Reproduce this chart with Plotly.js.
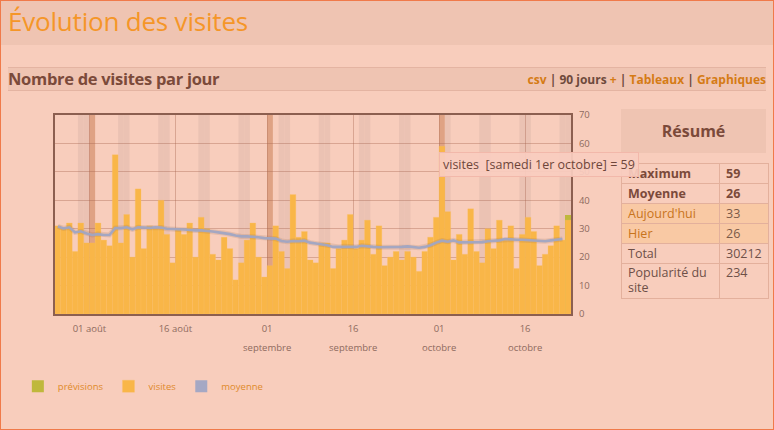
<!DOCTYPE html>
<html><head><meta charset="utf-8">
<script src="https://cdn.plot.ly/plotly-3.0.1.min.js"></script>
<style>
html,body{margin:0;padding:0;}
body{width:774px;height:430px;position:relative;overflow:hidden;background:#f8cdbc;font-family:"Open Sans",sans-serif;}
#frame{position:absolute;left:0;top:0;width:772px;height:428px;border:1px solid #f07a4a;}
#top{position:absolute;left:1px;top:1px;width:772px;height:44px;background:#efc4b2;}
#top h1{margin:0;position:absolute;left:7px;top:2px;font-weight:normal;font-size:26px;color:#f59628;letter-spacing:-0.2px;}
#band{position:absolute;left:8px;top:67px;width:758px;height:22px;background:#efc4b2;border-top:1px solid #e4b4a2;border-bottom:1px solid #e4b4a2;}
#band .t{position:absolute;left:0;top:-1px;font-weight:bold;font-size:16.5px;color:#7b4a3a;letter-spacing:-0.3px;}
#band .l{position:absolute;right:0;top:3px;font-weight:bold;font-size:12px;color:#6e4a3c;}
#band .l .o{color:#d57b15;}
#res{position:absolute;left:621px;top:109px;width:145px;height:44px;background:#efc4b2;text-align:center;line-height:44px;font-weight:bold;font-size:16px;color:#7b4a3a;}
#tab{position:absolute;left:621px;top:163px;border-collapse:collapse;font-size:12.5px;color:#6e5048;}
#tab td{border:1px solid #e3b09c;padding:0 6px;height:19px;vertical-align:middle;line-height:15px;}
#tab td.a{width:85px;}
#tab td.b{width:34px;}
#tab tr.bd td{font-weight:bold;color:#7b4a3a;}
#tab tr.hl td{background:#f9c9a4;color:#c8741c;}
#tab tr.hl td.b{color:#7b5a48;}
#tab tr.pop td{height:33px;vertical-align:top;padding-top:1px;}
#plot{position:absolute;left:0;top:0;width:774px;height:430px;z-index:5;pointer-events:none;}
</style></head>
<body>
<div id="frame"></div>
<div id="top"><h1>Évolution des visites</h1></div>
<div id="band"><span class="t">Nombre de visites par jour</span>
<span class="l"><span class="o">csv</span> | 90 jours <span class="o">+</span> | <span class="o">Tableaux</span> | <span class="o">Graphiques</span></span></div>
<div id="res">Résumé</div>
<table id="tab">
<tr class="bd"><td class="a">Maximum</td><td class="b">59</td></tr>
<tr class="bd"><td class="a">Moyenne</td><td class="b">26</td></tr>
<tr class="hl"><td class="a">Aujourd'hui</td><td class="b">33</td></tr>
<tr class="hl"><td class="a">Hier</td><td class="b">26</td></tr>
<tr><td class="a">Total</td><td class="b">30212</td></tr>
<tr class="pop"><td class="a">Popularité du site</td><td class="b">234</td></tr>
</table>
<div id="plot"></div>
<script>
// Data (90 days, 26 juillet -> 23 octobre 2011)
var startDate = "2011-07-26";
var visites = [31,30,32,22,32,25,25,32,26,24,
               56,25,35,20,44,23,31,30,40,28,
               18,30,28,32,20,34,30,21,19,27,
               23,12,18,26,32,20,13,17,31,22,
               16,42,27,29,19,18,25,25,16,23,
               26,35,23,26,33,21,31,17,20,22,
               19,22,20,15,22,27,34,59,36,19,
               28,21,37,22,18,30,23,33,26,31,
               16,28,34,29,17,21,24,31,26,33];
var moyenne = [30.8,30.1,30.5,28.7,29.1,28.3,27.8,28.1,27.8,27.8,
               30.2,30.2,30.5,29.8,30.5,30.3,30.3,30.5,30.4,30.0,
               29.8,29.8,29.7,29.5,29.4,29.4,29.3,29.0,28.7,28.5,
               28.1,27.6,27.3,27.3,27.2,27.0,26.7,26.5,26.5,25.7,
               25.4,25.7,25.6,25.8,25.1,24.8,24.6,24.2,23.6,23.6,
               23.8,23.7,23.6,24.0,23.7,23.6,23.5,23.5,23.5,23.5,
               23.6,23.8,23.5,23.3,23.6,24.2,25.1,25.8,25.4,25.9,
               25.2,25.2,25.3,25.3,25.3,25.6,25.8,25.9,26.4,26.2,
               26.1,26.1,26.0,25.9,25.7,25.6,25.9,26.1,26.4];
var prevision = 35;           // forecast for today (last day)
var tickDays = [6,21,37,52,67,82];
var tickTop = ["01 août","16 août","01","16","01","16"];
var tickBottom = ["","","septembre","septembre","octobre","octobre"];
var tooltipText = "visites&nbsp; [samedi 1er octobre] = 59";

var n = visites.length;
var idx = [], dates = [];
var d0 = new Date(startDate + "T00:00:00Z");
for (var i = 0; i < n; i++) {
  idx.push(i);
  dates.push(new Date(d0.getTime() + i * 86400000));
}
var shapes = [];
for (var i = 0; i < n; i++) {
  var dow = dates[i].getUTCDay();
  if (dates[i].getUTCDate() === 1) {
    shapes.push({type:"rect", xref:"x", yref:"paper", x0:i-0.5, x1:i+0.5, y0:0, y1:1,
      fillcolor:"#dfa284", line:{width:0}, layer:"below"});
  } else if (dow === 0 || dow === 6) {
    shapes.push({type:"rect", xref:"x", yref:"paper", x0:i-0.5, x1:i+0.5, y0:0, y1:1,
      fillcolor:"#ebc2b3", line:{width:0}, layer:"below"});
  }
}
var prevY = visites.map(function(v, i){ return i === n-1 ? prevision : null; });
var tickPos = tickDays.map(function(t){ return t - 0.5; });
var maxV = Math.max.apply(null, visites), maxI = visites.indexOf(maxV);

var traces = [
  {type:"bar", name:"prévisions", x:idx, y:prevY, marker:{color:"#bfb83c", line:{width:0}},
   width:1, hoverinfo:"skip"},
  {type:"bar", name:"visites", x:idx, y:visites, marker:{color:"#f9b648", line:{color:"#fabd60", width:0.3}},
   width:1, hoverinfo:"skip"},
  {type:"scatter", mode:"lines", name:"ombre", x:idx.slice(0, moyenne.length), y:moyenne, xaxis:"x2",
   line:{color:"rgba(150,110,90,0.18)", width:5}, showlegend:false, hoverinfo:"skip"},
  {type:"scatter", mode:"lines", name:"moyenne", x:idx.slice(0, moyenne.length), y:moyenne, xaxis:"x2",
   line:{color:"rgba(160,165,195,0.95)", width:2.6}, showlegend:false, hoverinfo:"skip"},
  {type:"bar", name:"moyenne", x:[null], y:[null], marker:{color:"#a5a8c4", line:{width:0}}}
];

var axFont = {family:"Open Sans, sans-serif", size:9.5, color:"#8e6a5e"};
var layout = {
  width:774, height:430,
  margin:{l:55, r:203, t:115, b:116, pad:0},
  paper_bgcolor:"rgba(0,0,0,0)", plot_bgcolor:"#f8cdbc",
  barmode:"overlay", bargap:0,
  showlegend:true,
  legend:{orientation:"h", x:-0.072, xanchor:"left", y:-0.29, yanchor:"top",
    font:{family:"Open Sans, sans-serif", size:9.5, color:"#e08a2a"}, bgcolor:"rgba(0,0,0,0)",
    traceorder:"normal"},
  xaxis:{range:[-0.5, n-0.5], tickmode:"array", tickvals:tickPos, ticktext:tickTop,
    showgrid:true, gridcolor:"rgba(165,100,80,0.38)", gridwidth:1,
    ticks:"outside", ticklen:5, tickcolor:"rgba(0,0,0,0)",
    showline:true, mirror:true, linecolor:"#8c5f50", linewidth:2,
    tickfont:axFont, zeroline:false, fixedrange:true},
  xaxis2:{overlaying:"x", anchor:"y", side:"bottom", range:[-0.5, n-0.5], tickmode:"array",
    tickvals:tickPos, ticktext:tickBottom, showgrid:false, showline:false, zeroline:false,
    ticks:"outside", ticklen:25, tickcolor:"rgba(0,0,0,0)", tickfont:axFont},
  yaxis:{range:[0,70], dtick:10, side:"right", showgrid:true, gridcolor:"rgba(165,100,80,0.38)",
    tickfont:axFont, zeroline:false, showline:true, mirror:true, linecolor:"#8c5f50", linewidth:2,
    ticks:"outside", ticklen:4, tickcolor:"rgba(0,0,0,0)"},
  shapes:shapes,
  annotations:[{xref:"x", yref:"y", x:maxI-0.5, y:maxV, xanchor:"left", yanchor:"top", xshift:0, yshift:-6,
    text:tooltipText, showarrow:false, align:"left",
    font:{family:"Open Sans, sans-serif", size:12.5, color:"#6e463a"},
    bgcolor:"rgba(249,204,192,0.93)", bordercolor:"#f2b8aa", borderwidth:1, borderpad:3}]
};
Plotly.newPlot("plot", traces, layout, {staticPlot:true, displayModeBar:false});
</script>
</body></html>
